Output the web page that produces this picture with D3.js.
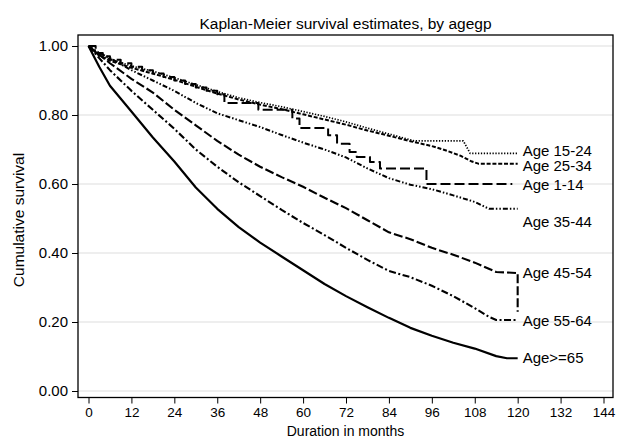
<!DOCTYPE html>
<meta charset="utf-8">
<html lang="en">
<head>
  <title>Kaplan-Meier survival estimates, by agegp</title>
  <script src="https://d3js.org/d3.v7.min.js"></script>
  <style>
    body { margin: 0; background: #fff; }
    text { font-family: "Liberation Sans", Arial, Helvetica, sans-serif; fill: #000; }
  </style>
</head>
<body>
<div id="km_plot"></div>
<script>

  // ---- data: [month, cumulative survival] ----
  var groups = ["Age 1-14", "Age 15-24", "Age 25-34", "Age 35-44", "Age 45-54", "Age 55-64", "Age>=65"];

  // step function (drawn with curveStepAfter)
  var age0114 = [[0,1],[2,0.98],[4,0.97],[6,0.96],[9,0.95],[12,0.94],[15,0.93],[18,0.92],[21,0.91],
                 [24,0.9],[27,0.89],[30,0.88],[33,0.87],[36,0.86],[38,0.835],[47.5,0.815],[57,0.79],
                 [59,0.762],[67,0.741],[69.5,0.717],[73,0.693],[75,0.678],[78.7,0.664],[81.5,0.645],
                 [94.5,0.6],[118.5,0.6]];
  var age1524 = [[0,1],[3,0.975],[6,0.962],[12,0.942],[18,0.927],[24,0.908],[30,0.888],[36,0.868],
                 [42,0.85],[48,0.836],[54,0.824],[60,0.81],[66,0.796],[72,0.78],[78,0.762],[84,0.745],
                 [90,0.728],[91,0.725],[104.8,0.725],[106.7,0.689],[120,0.689]];
  var age2534 = [[0,1],[3,0.972],[6,0.957],[12,0.937],[18,0.92],[24,0.902],[30,0.882],[36,0.862],
                 [42,0.845],[48,0.83],[54,0.817],[60,0.802],[66,0.787],[72,0.772],[78,0.755],[84,0.74],
                 [90,0.724],[96,0.71],[100,0.697],[104,0.682],[107,0.666],[109,0.659],[120,0.659]];
  var age3544 = [[0,1],[3,0.98],[6,0.965],[12,0.93],[18,0.9],[24,0.87],[30,0.835],[36,0.805],
                 [42,0.785],[48,0.765],[54,0.742],[60,0.72],[66,0.7],[72,0.677],[78,0.645],[84,0.617],
                 [90,0.598],[96,0.585],[102,0.567],[108,0.548],[112,0.528],[120,0.528]];
  var age4554 = [[0,1],[3,0.975],[6,0.95],[12,0.905],[18,0.865],[24,0.815],[30,0.77],[36,0.725],
                 [42,0.685],[48,0.65],[54,0.62],[60,0.592],[66,0.56],[72,0.53],[78,0.495],[84,0.46],
                 [90,0.44],[96,0.415],[102,0.395],[108,0.372],[114,0.345],[120,0.342],[120,0.23]];
  var age5564 = [[0,1],[3,0.965],[6,0.93],[12,0.87],[18,0.815],[24,0.76],[30,0.7],[36,0.65],
                 [42,0.605],[48,0.565],[54,0.525],[60,0.487],[66,0.452],[72,0.415],[78,0.38],[84,0.348],
                 [90,0.33],[96,0.305],[102,0.275],[108,0.24],[112,0.215],[114,0.206],[120,0.206]];
  var age65up = [[0,1],[3,0.94],[6,0.885],[12,0.81],[18,0.735],[24,0.665],[30,0.59],[36,0.528],
                 [42,0.475],[48,0.43],[54,0.39],[60,0.35],[66,0.31],[72,0.275],[78,0.243],[84,0.212],
                 [90,0.183],[96,0.16],[102,0.14],[108,0.123],[114,0.101],[117,0.095],[120,0.095]];
  var series = [age0114, age1524, age2534, age3544, age4554, age5564, age65up];

  var xTicks = [0, 12, 24, 36, 48, 60, 72, 84, 96, 108, 120, 132, 144];
  var yTicks = [0, 0.2, 0.4, 0.6, 0.8, 1];

  // ---- styles (one per group) ----
  var dashes  = ["10,4", "1.3,1.6", "4,1.8", "5,2,1.5,2,1.5,2", "9,3", "7,2.5,2,2.5", null];
  var widths  = [2, 1.7, 2, 2, 2.1, 2.1, 2.2];
  var stepped = [true, false, false, false, false, false, false];
  var labelDy = [1, -3, 2, 13, 0, 1, -1];   // small pixel nudges, as in the picture

  // plot region
  var width = 620, height = 439;
  var frame = {left: 78, right: 613, top: 35, bottom: 397.5};

  var svg = d3.select("#km_plot")
    .append("svg")
      .attr("width", width)
      .attr("height", height);

  var x = d3.scaleLinear()
    .domain([0, 144])
    .range([frame.left + 10.5, frame.right - 9.5]);

  var y = d3.scaleLinear()
    .domain([0, 1])
    .range([frame.bottom - 6.5, frame.top + 11]);

  // grid lines
  svg.append("g")
    .selectAll("line")
    .data(yTicks)
    .enter()
    .append("line")
      .attr("x1", frame.left)
      .attr("x2", frame.right)
      .attr("y1", function (d) { return y(d); })
      .attr("y2", function (d) { return y(d); })
      .style("stroke", "#dedede")
      .style("stroke-width", 1.2);

  // axes
  var xAxis = svg.append("g")
    .attr("transform", "translate(0," + frame.bottom + ")")
    .call(d3.axisBottom(x).tickValues(xTicks).tickSize(6).tickPadding(4).tickFormat(d3.format("d")));
  xAxis.select(".domain").remove();
  xAxis.selectAll("text").style("font-size", "13.5px").attr("fill", "#000");
  xAxis.selectAll("line").style("stroke", "#000");

  var yAxis = svg.append("g")
    .attr("transform", "translate(" + frame.left + ",0)")
    .call(d3.axisLeft(y).tickValues(yTicks).tickSize(6).tickPadding(4).tickFormat(d3.format(".2f")));
  yAxis.select(".domain").remove();
  yAxis.selectAll("text").style("font-size", "15px").attr("fill", "#000");
  yAxis.selectAll("line").style("stroke", "#000");

  // survival curves
  var lines = svg.append("g");
  series.forEach(function (data, i) {
    var line = d3.line()
      .x(function (d) { return x(d[0]); })
      .y(function (d) { return y(d[1]); })
      .curve(stepped[i] ? d3.curveStepAfter : d3.curveLinear);
    lines.append("path")
      .datum(data)
      .attr("d", line)
      .style("fill", "none")
      .style("stroke", "#000")
      .style("stroke-width", widths[i])
      .style("stroke-linejoin", "round")
      .style("stroke-dasharray", dashes[i]);
  });

  // labels at the curve ends
  svg.append("g")
    .selectAll("text")
    .data(groups)
    .enter()
    .append("text")
      .attr("x", x(120) + 5)
      .attr("y", function (d, i) {
        var s = series[i];
        var end = s.find(function (p) { return p[0] >= 120; }) || s[s.length - 1];
        return y(end[1]) + labelDy[i];
      })
      .attr("dy", "0.36em")
      .style("font-size", "15px")
      .text(function (d) { return d; });

  // frame
  svg.append("rect")
    .attr("x", frame.left)
    .attr("y", frame.top)
    .attr("width", frame.right - frame.left)
    .attr("height", frame.bottom - frame.top)
    .style("fill", "none")
    .style("stroke", "#000")
    .style("stroke-width", 1.3);

  // title and axis titles
  svg.append("text")
    .attr("x", (frame.left + frame.right) / 2)
    .attr("y", 29)
    .style("text-anchor", "middle")
    .style("font-size", "15.5px")
    .text("Kaplan-Meier survival estimates, by agegp");

  svg.append("text")
    .attr("x", (frame.left + frame.right) / 2)
    .attr("y", 435.8)
    .style("text-anchor", "middle")
    .style("font-size", "14px")
    .text("Duration in months");

  svg.append("text")
    .attr("transform", "rotate(-90)")
    .attr("x", -220)
    .attr("y", 24)
    .style("text-anchor", "middle")
    .style("font-size", "15.5px")
    .text("Cumulative survival");

</script>
</body>
</html>
